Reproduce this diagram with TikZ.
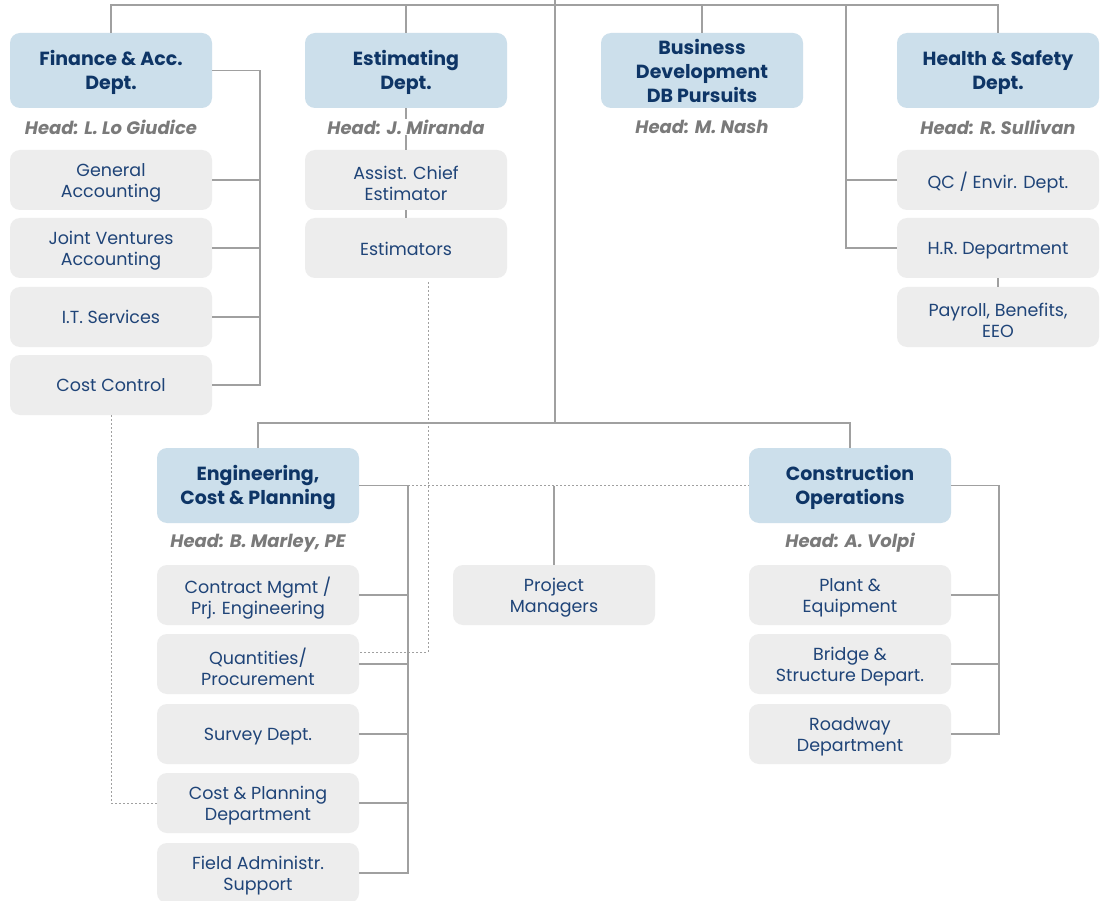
\documentclass[tikz,border=0pt]{standalone}
\usepackage{fontspec}
\setmainfont{Poppins}
\definecolor{hdrfill}{HTML}{CCDFEB}
\definecolor{hdrtext}{HTML}{0E3566}
\definecolor{subfill}{HTML}{EDEDED}
\definecolor{subtext}{HTML}{1F4478}
\definecolor{headgray}{HTML}{7A7A7A}
\definecolor{linegray}{HTML}{A0A0A0}
\newcommand\hbx[4][-2pt]{\node[hdr] (#2) at (#3) {};\node[hdrtxt] at ([yshift=#1]#2.center) {#4};}
\newcommand\sbx[4][-3pt]{\node[sub] (#2) at (#3) {};\node[subtxt] at ([yshift=#1]#2.center) {#4};}
\begin{document}
\begin{tikzpicture}[x=1pt,y=-1pt,
  hdr/.style={fill=hdrfill, rounded corners=10pt, minimum width=202pt, minimum height=75pt, inner sep=0pt},
  hdrtxt/.style={inner sep=0pt, align=center, text=hdrtext, font=\bfseries\fontsize{19}{24}\selectfont},
  sub/.style={fill=subfill, rounded corners=10pt, minimum width=202pt, minimum height=60pt, inner sep=0pt},
  subtxt/.style={inner sep=0pt, align=center, text=subtext, font=\fontsize{17.5}{21}\selectfont},
  headlbl/.style={fill=white, inner sep=1pt, text=headgray, font=\bfseries\itshape\fontsize{18}{20}\selectfont},
  conn/.style={draw=linegray, line width=1.2pt},
  dots/.style={draw=linegray, line width=0.9pt, dash pattern=on 2pt off 2pt}]
\useasboundingbox[fill=white] (0,0) rectangle (1103,901);

% top level headers
\hbx{fin}{111,70.5}{Finance \& Acc.\\Dept.}
\hbx{est}{406,70.5}{Estimating\\Dept.}
\hbx[0pt]{bd}{702,70.5}{Business\\Development\\DB Pursuits}
\hbx{hs}{998,70.5}{Health \& Safety\\Dept.}

% sub boxes top
\sbx{ga}{111,180}{General\\Accounting}
\sbx{jv}{111,248}{Joint Ventures\\Accounting}
\sbx[0pt]{it}{111,317}{I.T. Services}
\sbx[0pt]{cc}{111,385}{Cost Control}
\sbx{ace}{406,180}{Assist. Chief\\Estimator}
\sbx[-1pt]{estr}{406,248}{Estimators}
\sbx{qc}{998,180}{QC / Envir. Dept.}
\sbx{hr}{998,248}{H.R. Department}
\sbx{pay}{998,317}{Payroll, Benefits,\\EEO}

% second level
\hbx{eng}{258,485.5}{Engineering,\\Cost \& Planning}
\hbx{con}{850,485.5}{Construction\\Operations}
\sbx{cm}{258,595}{Contract Mgmt /\\Prj. Engineering}
\sbx{qp}{258,664}{Quantities/\\Procurement}
\sbx{sv}{258,734}{Survey Dept.}
\sbx{cp}{258,803}{Cost \& Planning\\Department}
\sbx{fa}{258,873}{Field Administr.\\Support}
\sbx{pm}{554,595}{Project\\Managers}
\sbx{pe}{850,595}{Plant \&\\Equipment}
\sbx{bs}{850,664}{Bridge \&\\Structure Depart.}
\sbx{rd}{850,734}{Roadway\\Department}

% coordinates
\coordinate (top) at (555,0);
\coordinate (bar) at (555,5);
\coordinate (mid) at (555,423);
\coordinate (hsx) at (846,5);
\coordinate (fx) at (260,0);
\coordinate (ex) at (408,0);
\coordinate (cx) at (999,0);
\coordinate (dq) at (428,282);

% connectors top
\draw[conn] (top) -- (mid);
\draw[conn] (fin.north) |- (bar) -| (hs.north);
\draw[conn] (est.north) -- (est.north |- bar);
\draw[conn] (bd.north) -- (bd.north |- bar);
\draw[conn] (hsx) |- (hr.west);
\draw[conn] (hsx |- qc.west) -- (qc.west);
\draw[conn] (hr.south) -- (pay.north);
\draw[conn] (fin.east) -| (fx |- cc.east) -- (cc.east);
\foreach \n in {ga,jv,it} \draw[conn] (\n.east) -- (fx |- \n.east);
\draw[conn] (est.south) -- (ace.north);
\draw[conn] (ace.south) -- (estr.north);

% middle
\draw[conn] (eng.north) |- (mid) -| (con.north);
\draw[conn] (eng.east) -| (ex |- fa.east) -- (fa.east);
\foreach \n in {cm,qp,sv,cp} \draw[conn] (\n.east) -- (ex |- \n.east);
\draw[conn] (con.east) -| (cx |- rd.east) -- (rd.east);
\foreach \n in {pe,bs} \draw[conn] (\n.east) -- (cx |- \n.east);
\draw[dots] (ex |- eng.east) -- (con.west);
\draw[conn] (pm.north |- eng.east) -- (pm.north);
\draw[dots] (dq) |- ([yshift=12pt]qp.east);
\draw[dots] (cc.south) |- (cp.west);

% head labels
\node[headlbl] (hfin) at (111,127) {Head: L. Lo Giudice};
\node[headlbl] (hest) at (406,127) {Head: J. Miranda};
\node[headlbl] (hbd)  at (702,127) {Head: M. Nash};
\node[headlbl] (hhs)  at (998,127) {Head: R. Sullivan};
\node[headlbl] (heng) at (258,543) {Head: B. Marley, PE};
\node[headlbl] (hcon) at (850,543) {Head: A. Volpi};
\end{tikzpicture}
\end{document}
